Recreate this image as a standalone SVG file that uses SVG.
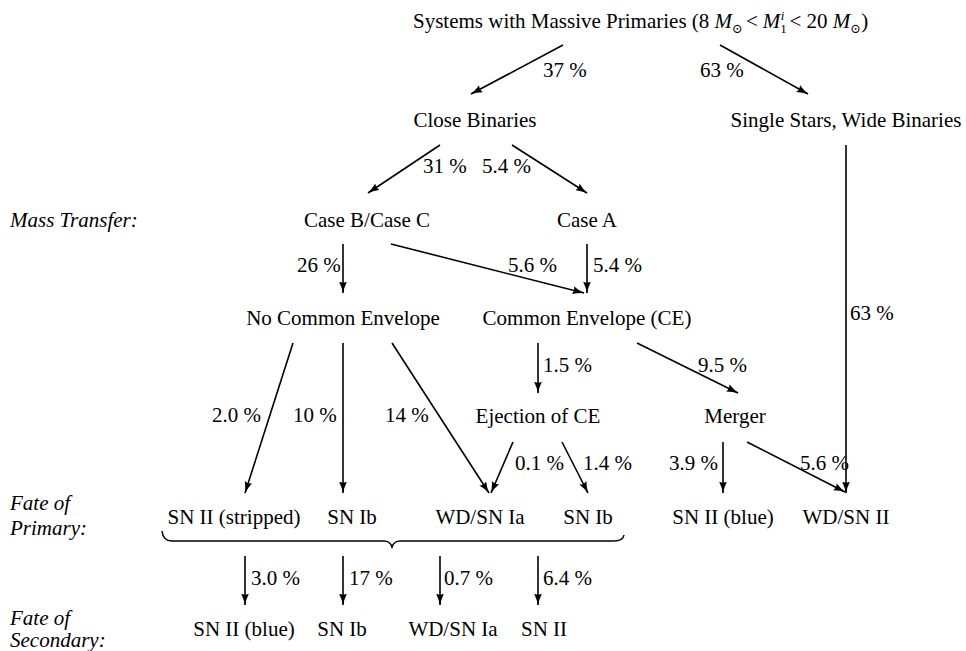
<svg xmlns="http://www.w3.org/2000/svg" width="966" height="651" viewBox="0 0 966 651" font-family="'Liberation Serif', 'Times New Roman', Times, 'DejaVu Serif', 'Noto Serif', serif">
<style>
text { font-family: "Liberation Serif", "Times New Roman", Times, "DejaVu Serif", "Noto Serif", serif; font-size: 21px; fill: #000; }
.c { text-anchor: middle; }
.e { text-anchor: end; }
.i { font-style: italic; }
.a { stroke: #000; stroke-width: 1.6; fill: none; marker-end: url(#ah); }
.b { stroke: #000; stroke-width: 1.5; fill: none; }
</style>
<defs>
<marker id="ah" viewBox="0 0 12 8" refX="11.5" refY="4" markerWidth="12" markerHeight="8" markerUnits="userSpaceOnUse" orient="auto">
<path d="M0,0 Q6,3 12,4 Q6,5 0,8 Q2.5,4 0,0 z" fill="#000"/>
</marker>
</defs>
<rect width="966" height="651" fill="#fff"/>

<g id="connectors">
<line class="a" x1="563" y1="45" x2="471" y2="94"/>
<line class="a" x1="720" y1="45" x2="808" y2="94"/>
<line class="a" x1="440" y1="145" x2="368" y2="193"/>
<line class="a" x1="512" y1="145" x2="587" y2="193"/>
<line class="a" x1="343" y1="244" x2="343" y2="293"/>
<line class="a" x1="391" y1="244" x2="584" y2="293"/>
<line class="a" x1="587" y1="244" x2="587" y2="293"/>
<line class="a" x1="846" y1="145" x2="846" y2="493"/>
<line class="a" x1="538" y1="343" x2="538" y2="393"/>
<line class="a" x1="637" y1="343" x2="738" y2="393"/>
<line class="a" x1="293" y1="343" x2="245" y2="493"/>
<line class="a" x1="343" y1="343" x2="343" y2="493"/>
<line class="a" x1="392" y1="343" x2="489" y2="493"/>
<line class="a" x1="513" y1="442" x2="491" y2="493"/>
<line class="a" x1="562" y1="442" x2="588" y2="493"/>
<line class="a" x1="723" y1="442" x2="723" y2="493"/>
<line class="a" x1="747" y1="442" x2="845" y2="492"/>
<line class="a" x1="245" y1="556" x2="245" y2="605"/>
<line class="a" x1="343" y1="556" x2="343" y2="605"/>
<line class="a" x1="440" y1="556" x2="440" y2="605"/>
<line class="a" x1="538" y1="556" x2="538" y2="605"/>
<path class="b" d="M162,531 Q163,541 172,541 L384,541 Q390,541 392,547 Q394,541 400,541 L614,541 Q623,541 624,535"/>
</g>

<g id="connector-labels">
<text x="543" y="77">37 %</text>
<text x="700" y="77">63 %</text>
<text x="423" y="173">31 %</text>
<text x="482" y="173">5.4 %</text>
<text x="297" y="272">26 %</text>
<text x="508" y="272">5.6 %</text>
<text x="593" y="272">5.4 %</text>
<text x="850" y="320">63 %</text>
<text x="543" y="372">1.5 %</text>
<text x="698" y="372">9.5 %</text>
<text x="212" y="422">2.0 %</text>
<text x="293" y="422">10 %</text>
<text x="385" y="422">14 %</text>
<text x="515" y="470">0.1 %</text>
<text x="583" y="470">1.4 %</text>
<text class="e" x="718" y="470">3.9 %</text>
<text x="800" y="470">5.6 %</text>
<text x="251" y="585">3.0 %</text>
<text x="349" y="585">17 %</text>
<text x="444" y="585">0.7 %</text>
<text x="543" y="585">6.4 %</text>
</g>

<g id="row-labels">
<text class="i" x="10" y="227">Mass Transfer:</text>
<text class="i" x="10" y="510">Fate of</text>
<text class="i" x="10" y="535">Primary:</text>
<text class="i" x="10" y="625">Fate of</text>
<text class="i" x="10" y="647">Secondary:</text>
</g>

<g id="n-systems"><text x="413" y="28">Systems with Massive Primaries (8 <tspan class="i">M</tspan><tspan font-size="13" dy="5">⊙</tspan><tspan dy="-5" dx="3">&lt;</tspan><tspan class="i" dx="5">M</tspan><tspan font-size="13" dy="5">1</tspan><tspan class="i" font-size="13" dx="-6" dy="-13">i</tspan><tspan dy="8" dx="5">&lt; 20 </tspan><tspan class="i">M</tspan><tspan font-size="13" dy="5">⊙</tspan><tspan dy="-5">)</tspan></text></g>
<g id="n-close"><text class="c" x="475" y="127">Close Binaries</text></g>
<g id="n-single"><text class="c" x="846" y="127">Single Stars, Wide Binaries</text></g>
<g id="n-caseBC"><text class="c" x="367" y="227">Case B/Case C</text></g>
<g id="n-caseA"><text class="c" x="587" y="227">Case A</text></g>
<g id="n-noce"><text class="c" x="343" y="325">No Common Envelope</text></g>
<g id="n-ce"><text class="c" x="587" y="325">Common Envelope (CE)</text></g>
<g id="n-eject"><text class="c" x="538" y="423">Ejection of CE</text></g>
<g id="n-merger"><text class="c" x="735" y="423">Merger</text></g>
<g id="n-p-sn2s"><text class="c" x="234" y="524">SN II (stripped)</text></g>
<g id="n-p-sn1b"><text class="c" x="352" y="524">SN Ib</text></g>
<g id="n-p-wd1a"><text class="c" x="480" y="524">WD/SN Ia</text></g>
<g id="n-p-sn1b2"><text class="c" x="588" y="524">SN Ib</text></g>
<g id="n-p-sn2b"><text class="c" x="723" y="524">SN II (blue)</text></g>
<g id="n-p-wd2"><text class="c" x="846" y="524">WD/SN II</text></g>
<g id="n-s-sn2b"><text class="c" x="244" y="636">SN II (blue)</text></g>
<g id="n-s-sn1b"><text class="c" x="342" y="636">SN Ib</text></g>
<g id="n-s-wd1a"><text class="c" x="453" y="636">WD/SN Ia</text></g>
<g id="n-s-sn2"><text class="c" x="544" y="636">SN II</text></g>
</svg>
